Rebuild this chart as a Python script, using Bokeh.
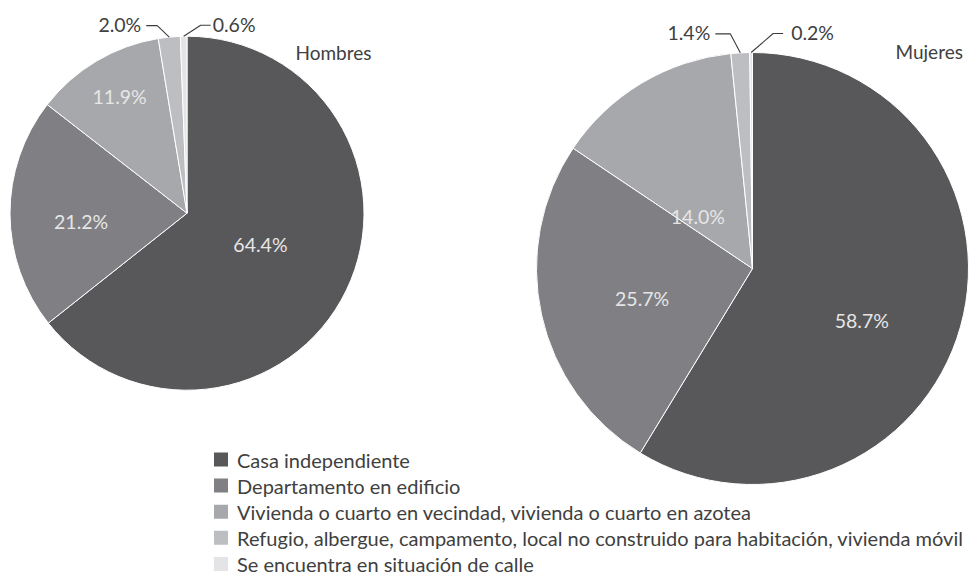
import math
from bokeh.plotting import figure
from bokeh.models import Range1d, ColumnDataSource
from bokeh.core.properties import value
from bokeh.embed import file_html
from bokeh.resources import INLINE

# ---- data ----
categories = [
    "Casa independiente",
    "Departamento en edificio",
    "Vivienda o cuarto en vecindad, vivienda o cuarto en azotea",
    "Refugio, albergue, campamento, local no construido para habitación, vivienda móvil",
    "Se encuentra en situación de calle",
]
hombres = [64.4, 21.2, 11.9, 2.0, 0.6]
mujeres = [58.7, 25.7, 14.0, 1.4, 0.2]
groups = ["Hombres", "Mujeres"]

colors = ["#58585a", "#808084", "#a7a8ab", "#bdbec1", "#e4e4e6"]

W, H = 972, 577
FONT = value("Lato")


def Y(sy):
    # y measured from top of picture -> data y
    return H - sy


p = figure(width=W, height=H, output_backend="svg", toolbar_location=None,
           x_range=Range1d(0, W), y_range=Range1d(0, H),
           min_border=0, outline_line_color=None)
p.axis.visible = False
p.grid.visible = False
p.background_fill_color = "white"
p.border_fill_color = "white"

# pie layout (centre, radius) and label styling per group
pies = [
    dict(vals=hombres, cx=186.5, cy=212.7, r=177,
         inner=[(0.45, 3), (0.60, 4), (0.76, -0.7)],
         outer=[(-12, -11.5, 11, 5, "right"), (17, -11, 10, 2, "left")],
         title_x=295, title_y=52),
    dict(vals=mujeres, cx=752.0, cy=268.0, r=216,
         inner=[(0.56, -9.7), (0.53, 3), (0.35, 15.3)],
         outer=[(-10, -19, 15, 5, "right"), (22, -19, 10, 8, "left")],
         title_x=895, title_y=51),
]

for g, pie in zip(groups, pies):
    vals = pie["vals"]
    tot = sum(vals)
    cum = 0.0
    starts, ends, mids = [], [], []
    for v in vals:
        a0 = math.pi / 2 - 2 * math.pi * cum / tot
        cum += v
        a1 = math.pi / 2 - 2 * math.pi * cum / tot
        starts.append(a1)
        ends.append(a0)
        mids.append((a0 + a1) / 2)
    cx, cy, r = pie["cx"], Y(pie["cy"]), pie["r"]
    src = ColumnDataSource(dict(start=starts, end=ends, color=colors,
                                x=[cx] * 5, y=[cy] * 5))
    p.wedge(x="x", y="y", radius=r, start_angle="start", end_angle="end",
            fill_color="color", line_color="white", line_width=1,
            direction="anticlock", source=src)

    # inside labels
    lx, ly, lt = [], [], []
    for i, (f, da) in enumerate(pie["inner"]):
        a = mids[i] + math.radians(da)
        lx.append(cx + r * f * math.cos(a))
        ly.append(cy + r * f * math.sin(a))
        lt.append(f"{vals[i]:.1f}%")
    p.text(x=lx, y=ly, text=lt, text_font=FONT, text_font_size="19.5px",
           text_color="#e6e6e6", text_align="center", text_baseline="middle")

    # outside labels with leader lines
    for k, (dx, dy, hl, gap, align) in enumerate(pie["outer"]):
        i = 3 + k
        a = mids[i]
        ex = cx + r * math.cos(a)
        ey = cy + r * math.sin(a)
        bx, by = ex + dx, ey - dy
        sgn = -1 if align == "right" else 1
        tx = bx + sgn * hl
        p.line(x=[ex, bx, tx], y=[ey, by, by], line_color="#3c3c3c", line_width=1.1)
        p.text(x=[tx + sgn * gap], y=[by + 1], text=[f"{vals[i]:.1f}%"],
               text_font=FONT, text_font_size="19.5px", text_color="#404040",
               text_align=align, text_baseline="middle")

    p.text(x=[pie["title_x"]], y=[Y(pie["title_y"])], text=[g], text_font=FONT,
           text_font_size="19px", text_color="#404040", text_align="left",
           text_baseline="alphabetic")

# legend
leg_x, leg_y0, leg_dy = 220.5, 459.0, 26.1
lxs = [leg_x] * len(categories)
lys = [Y(leg_y0 + i * leg_dy) for i in range(len(categories))]
p.scatter(x=lxs, y=lys, marker="square", size=14, fill_color=colors,
          line_color=None)
p.text(x=[leg_x + 16] * len(categories), y=lys, text=categories, text_font=FONT,
       text_font_size="20px", text_color="#404040", text_align="left",
       text_baseline="middle")

open("out.html", "w").write(file_html(p, INLINE))
